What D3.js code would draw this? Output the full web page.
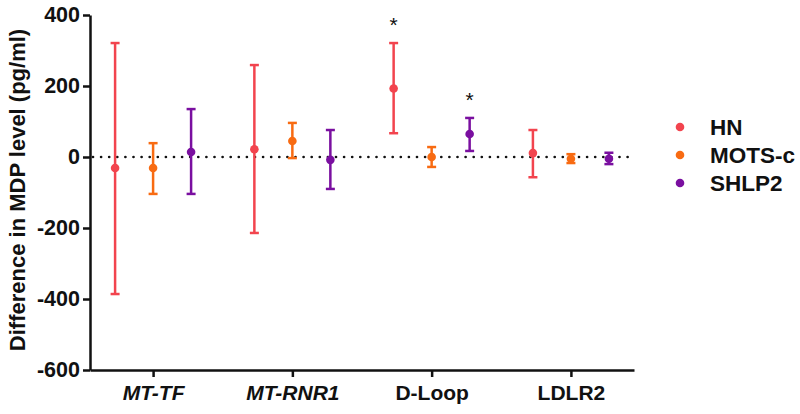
<!DOCTYPE html>
<html><head><meta charset="utf-8">
<script src="https://cdn.jsdelivr.net/npm/d3@7"></script>
<style>body{margin:0;background:#fff;} svg{display:block;}</style>
</head><body>
<svg id="c" width="800" height="414"></svg>
<script>
const categories = ["MT-TF", "MT-RNR1", "D-Loop", "LDLR2"];
const italicCats = ["MT-TF", "MT-RNR1"];
const series = ["HN", "MOTS-c", "SHLP2"];
const colors = ["#f2444e", "#f86b12", "#7a0fa0"];
// mean, lower, upper per category for each series
const hnMean = [-31, 22, 193, 11];
const hnLow = [-386, -214, 67, -57];
const hnHigh = [321, 259, 321, 76];
const motsMean = [-31, 45, 0, -5];
const motsLow = [-104, -3, -28, -17];
const motsHigh = [39, 96, 28, 8];
const shlpMean = [14, -8, 65, -5];
const shlpLow = [-104, -90, 17, -20];
const shlpHigh = [135, 76, 110, 12];
const significant = [[2, 0], [2, 2]]; // [category index, series index]
const yTicks = [-600, -400, -200, 0, 200, 400];

const means = [hnMean, motsMean, shlpMean];
const lows = [hnLow, motsLow, shlpLow];
const highs = [hnHigh, motsHigh, shlpHigh];

const svg = d3.select("#c");
const font = "'Liberation Sans', Arial, sans-serif";

const x = d3.scalePoint().domain(categories).range([90, 634]).padding(0.453);
const xs = d3.scalePoint().domain(series).range([-38, 38]);
const y = d3.scaleLinear().domain([-600, 400]).range([370, 15]);

// zero dotted line
svg.append("line")
  .attr("x1", 93).attr("x2", 628)
  .attr("y1", y(0)).attr("y2", y(0))
  .attr("stroke", "#111").attr("stroke-width", 2.7)
  .attr("stroke-linecap", "round")
  .attr("stroke-dasharray", "0 8.1");

// Y axis
const yAxis = svg.append("g").attr("transform", "translate(90,0)")
  .call(d3.axisLeft(y).tickValues(yTicks).tickFormat(d => String(d))
    .tickSize(7).tickPadding(3).tickSizeOuter(0));
yAxis.select(".domain").attr("stroke", "#111").attr("stroke-width", 2.5);
yAxis.selectAll(".tick line").attr("stroke", "#111").attr("stroke-width", 2.5);
yAxis.selectAll(".tick text").attr("font-family", font).attr("font-weight", "bold")
  .attr("font-size", 21.5).attr("fill", "#111");

// X axis
const xAxis = svg.append("g").attr("transform", "translate(0,370)")
  .call(d3.axisBottom(x).tickSize(7).tickPadding(8).tickSizeOuter(0));
xAxis.select(".domain").attr("stroke", "#111").attr("stroke-width", 2.5);
xAxis.selectAll(".tick line").attr("stroke", "#111").attr("stroke-width", 2.5);
xAxis.selectAll(".tick text").attr("font-family", font).attr("font-weight", "bold")
  .attr("font-size", 21).attr("fill", "#111")
  .attr("font-style", d => italicCats.includes(d) ? "italic" : "normal");

// y title
svg.append("text")
  .attr("transform", "translate(17,190) rotate(-90)")
  .attr("text-anchor", "middle").attr("dominant-baseline", "central")
  .attr("font-family", font).attr("font-weight", "bold").attr("font-size", 22)
  .attr("fill", "#111")
  .text("Difference in MDP level (pg/ml)");

// error bars and points
series.forEach((s, si) => {
  const g = svg.append("g");
  categories.forEach((c, ci) => {
    const cx = x(c) + xs(s);
    const col = colors[si];
    g.append("line").attr("x1", cx).attr("x2", cx)
      .attr("y1", y(lows[si][ci])).attr("y2", y(highs[si][ci]))
      .attr("stroke", col).attr("stroke-width", 2.5);
    [lows[si][ci], highs[si][ci]].forEach(v => {
      g.append("line").attr("x1", cx - 4.5).attr("x2", cx + 4.5)
        .attr("y1", y(v)).attr("y2", y(v))
        .attr("stroke", col).attr("stroke-width", 2.5);
    });
    g.append("circle").attr("cx", cx).attr("cy", y(means[si][ci]))
      .attr("r", 4.3).attr("fill", col);
  });
});

// significance stars
significant.forEach(([ci, si]) => {
  svg.append("text")
    .attr("x", x(categories[ci]) + xs(series[si]))
    .attr("y", y(highs[si][ci]) - 11)
    .attr("text-anchor", "middle")
    .attr("font-family", font).attr("font-size", 21).attr("fill", "#111")
    .text("*");
});

// legend
series.forEach((s, i) => {
  const ly = 127 + i * 28;
  svg.append("circle").attr("cx", 680).attr("cy", ly).attr("r", 4.3).attr("fill", colors[i]);
  svg.append("text").attr("x", 710).attr("y", ly)
    .attr("dominant-baseline", "central")
    .attr("font-family", font).attr("font-weight", "bold").attr("font-size", 22.5)
    .attr("fill", "#111").text(s);
});
</script>
</body></html>
